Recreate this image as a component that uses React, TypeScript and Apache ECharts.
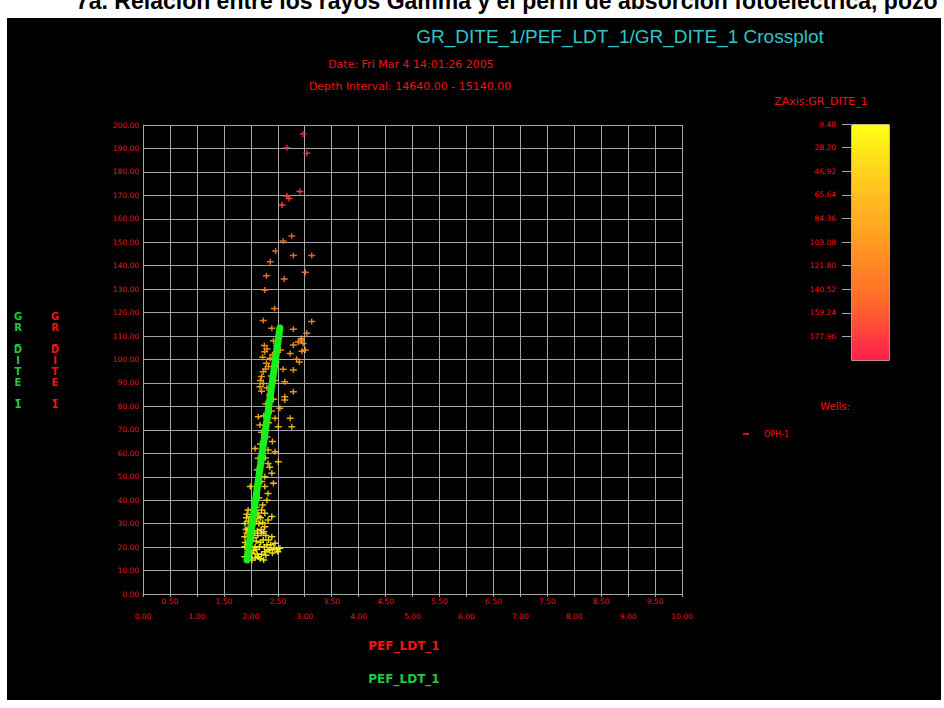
import React, { useEffect, useRef } from "react";
import * as echarts from "echarts";

// PEF_LDT_1 (x) vs GR_DITE_1 (y); colour = GR_DITE_1
const crossplotPoints: number[][] = [
  [2.97, 196.2], [2.67, 190.3], [3.04, 187.9], [2.67, 169.7], [2.71, 168.7], [2.91, 171.6],
  [2.58, 165.9], [2.76, 152.7], [2.6, 150.5], [2.46, 146.3], [2.79, 144.3], [3.13, 144.3],
  [2.36, 141.7], [3.01, 137.2], [2.29, 135.7], [2.62, 134.3], [2.26, 129.6], [2.44, 121.8],
  [2.23, 116.6], [3.13, 116.2], [2.39, 113.3], [2.79, 112.9], [3.04, 111.2], [2.94, 109.0],
  [2.94, 108.3], [2.79, 106.2], [3.01, 104.0], [2.73, 102.6], [2.26, 103.3], [2.36, 100.5],
  [2.85, 100.1], [2.29, 98.4], [2.6, 95.8], [2.79, 95.5], [2.23, 94.8], [2.2, 92.7],
  [2.23, 89.8], [2.63, 90.5], [2.17, 88.4], [2.79, 86.3], [2.63, 84.1], [2.63, 82.7],
  [2.54, 79.2], [2.14, 75.6], [2.73, 74.9], [2.45, 74.9], [2.17, 72.1], [2.76, 71.3],
  [2.51, 71.3], [2.08, 62.1], [2.32, 61.4], [2.45, 60.7], [2.14, 57.9], [2.51, 56.4],
  [2.32, 55.7], [2.39, 51.5], [2.26, 50.0], [1.99, 45.8], [2.26, 45.8], [2.42, 47.2],
  [2.32, 42.9], [2.42, 108], [2.48, 106], [2.55, 104], [2.4, 102], [2.47, 99], [2.33, 97],
  [2.38, 93], [2.45, 91], [2.3, 88], [2.35, 85], [2.42, 83], [2.28, 81], [2.38, 78],
  [2.24, 76], [2.33, 73], [2.2, 69], [2.3, 67], [2.4, 65], [2.18, 64], [2.27, 58],
  [2.35, 54], [2.12, 53], [2.2, 48], [2.3, 40], [2.15, 41], [2.22, 38], [2.1, 37],
  [2.9, 98.9], [2.95, 103.5], [2.88, 107.5], [2.97, 106.8],
  [2.25, 106], [2.3, 104.5], [2.22, 101], [2.27, 96], [2.18, 91], [2.2, 86.5],
  [2.05, 35.8], [1.95, 35.8], [2.2, 35.8], [2.26, 34.4], [2.39, 33.0], [2.32, 31.6],
  [1.89, 30.1], [2.26, 28.7], [2.2, 25.9], [2.39, 24.4], [1.89, 24.4], [2.23, 23.0],
  [2.45, 21.6], [2.54, 19.5], [2.08, 20.2], [1.89, 20.2], [2.26, 18.0], [2.02, 17.4],
  [1.89, 15.9], [2.14, 15.9], [2.32, 18.8], [1.92, 32.5], [1.95, 28], [1.93, 26],
  [2.0, 27], [1.98, 22], [2.05, 24], [2.12, 27], [2.15, 30], [2.18, 22], [2.1, 19],
  [2.2, 17], [2.3, 21], [2.35, 19], [2.4, 17.5], [2.48, 19], [2.5, 18], [2.02, 14.5],
  [2.08, 15.5], [1.95, 18], [2.28, 25], [2.15, 33], [2.1, 31],
  [1.9, 22], [1.91, 27.5], [1.96, 31], [2.03, 29.5], [2.07, 26], [2.1, 22.5], [2.13, 25],
  [2.16, 20], [2.19, 27.5], [2.22, 30.5], [2.25, 20], [2.28, 16.5], [2.33, 23],
  [2.37, 21], [2.43, 19.5], [1.97, 16], [2.05, 18.5], [2.12, 17], [2.17, 15], [2.24, 14.5],
  [1.93, 34], [2.0, 33], [2.07, 32], [2.18, 32.5], [2.13, 34.5], [2.24, 26.5],
];

// green trend band
const trendLine: number[][] = [
  [1.93, 14.5],
  [2.54, 113.4],
];

const colorbarTicks: number[] = [9.48, 28.2, 46.92, 65.64, 84.36, 103.08, 121.8, 140.52, 159.24, 177.96];
const colorMin = 9.48;
const colorMax = 196.68;

const RED = "#f01414";
const GRID = "#a6a6a6";
const PIX = "DejaVu Sans";

export default function App() {
  const ref = useRef<HTMLDivElement>(null);
  useEffect(() => {
    if (!ref.current) return;
    const chart = echarts.init(ref.current, null, { renderer: "svg" });
    const plus = "path://M0,4h10v2h-10zM4,1h2v8h-2z";
    chart.setOption({
      animation: false,
      backgroundColor: "#ffffff",
      grid: [
        { left: 143, top: 125, width: 539, height: 469, show: false },
        { left: 851, top: 124, width: 38, height: 236, show: false },
      ],
      xAxis: [
        {
          gridIndex: 0, type: "value", min: 0, max: 10, interval: 0.5, position: "bottom",
          axisLine: { show: true, lineStyle: { color: GRID, width: 1 } },
          axisTick: { show: true, length: 3, lineStyle: { color: GRID } },
          splitLine: { show: true, lineStyle: { color: GRID, width: 1 } },
          axisLabel: {
            margin: 3, color: RED, fontSize: 7.5, fontFamily: PIX,
            formatter: (v: number) => (Math.round(v * 2) % 2 === 1 ? v.toFixed(2) : ""),
          },
        },
        {
          gridIndex: 0, type: "value", min: 0, max: 10, interval: 1, position: "bottom", offset: 0,
          axisLine: { show: false }, axisTick: { show: false }, splitLine: { show: false },
          axisLabel: { margin: 18, color: RED, fontSize: 7.5, fontFamily: PIX, formatter: (v: number) => v.toFixed(2) },
        },
        { gridIndex: 1, type: "value", show: false, min: 0, max: 1 },
      ],
      yAxis: [
        {
          gridIndex: 0, type: "value", min: 0, max: 200, interval: 10,
          axisLine: { show: true, lineStyle: { color: GRID, width: 1 } },
          axisTick: { show: false },
          splitLine: { show: true, lineStyle: { color: GRID, width: 1 } },
          axisLabel: { margin: 4, color: RED, fontSize: 7.5, fontFamily: PIX, formatter: (v: number) => v.toFixed(2) },
        },
        {
          gridIndex: 1, type: "value", min: colorMin, max: colorMax, inverse: true, position: "left",
          axisLine: { show: false },
          axisTick: { show: true, length: 9, customValues: colorbarTicks, lineStyle: { color: GRID } },
          splitLine: { show: false },
          axisLabel: {
            margin: 15, color: RED, fontSize: 7.5, fontFamily: PIX, customValues: colorbarTicks,
            formatter: (v: number) => v.toFixed(2),
          },
        },
      ],
      visualMap: {
        type: "continuous",
        show: true,
        dimension: 1,
        seriesIndex: 0,
        min: colorMin,
        max: colorMax,
        inverse: true,
        calculable: false,
        left: 851,
        top: 124,
        itemWidth: 38,
        itemHeight: 236,
        padding: 0,
        text: null,
        showLabel: false,
        borderColor: "#9a9a9a",
        borderWidth: 1,
        inRange: { color: ["#ffff14", "#ffc81e", "#ff9a22", "#ff6a2a", "#ff1e4c"] },
        hoverLink: false,
      },
      legend: {
        left: 738,
        top: 425,
        itemWidth: 6,
        itemHeight: 2,
        itemGap: 4,
        selectedMode: false,
        data: [{ name: "OPH-1", icon: "rect", itemStyle: { color: RED } }],
        textStyle: { color: RED, fontSize: 8, fontFamily: PIX, padding: [0, 0, 0, 10] },
      },
      series: [
        {
          name: "OPH-1",
          type: "scatter",
          xAxisIndex: 0,
          yAxisIndex: 0,
          symbol: plus,
          symbolSize: [7, 6],
          data: crossplotPoints,
          itemStyle: { opacity: 0.9 },
        },
        {
          name: "trend",
          type: "line",
          xAxisIndex: 0,
          yAxisIndex: 0,
          data: trendLine,
          symbol: "none",
          lineStyle: { color: "#1aee1a", width: 7, cap: "round" },
        },
      ],
      graphic: [
        { type: "rect", z: -10, shape: { x: 7, y: 18, width: 934, height: 682 }, style: { fill: "#000000" } },
        {
          type: "text", x: 76, y: 1,
          style: {
            text: "7a. Relación entre los rayos Gamma y el perfil de absorción fotoeléctrica, pozo",
            fill: "#000", font: "bold 23px 'Liberation Sans'", verticalAlign: "middle", align: "left",
          },
        },
        {
          type: "text", x: 620, y: 36,
          style: { text: "GR_DITE_1/PEF_LDT_1/GR_DITE_1 Crossplot", fill: "#2ec6c6", font: "19px 'Liberation Sans'", align: "center", verticalAlign: "middle" },
        },
        {
          type: "text", x: 411, y: 64,
          style: { text: "Date: Fri Mar 4 14:01:26 2005", fill: RED, font: "11px 'DejaVu Sans'", align: "center", verticalAlign: "middle" },
        },
        {
          type: "text", x: 410, y: 86,
          style: { text: "Depth Interval: 14640.00 - 15140.00", fill: RED, font: "11px 'DejaVu Sans'", align: "center", verticalAlign: "middle" },
        },
        {
          type: "text", x: 821, y: 101,
          style: { text: "ZAxis:GR_DITE_1", fill: RED, font: "11px 'DejaVu Sans'", align: "center", verticalAlign: "middle" },
        },
        {
          type: "text", x: 835, y: 406,
          style: { text: "Wells:", fill: RED, font: "10px 'DejaVu Sans'", align: "center", verticalAlign: "middle" },
        },
        {
          type: "text", x: 18, y: 360,
          style: { text: "G\nR\n_\nD\nI\nT\nE\n_\n1", fill: "#22c844", font: "bold 10px 'DejaVu Sans'", lineHeight: 11, align: "center", verticalAlign: "middle" },
        },
        {
          type: "text", x: 55, y: 360,
          style: { text: "G\nR\n_\nD\nI\nT\nE\n_\n1", fill: RED, font: "bold 10px 'DejaVu Sans'", lineHeight: 11, align: "center", verticalAlign: "middle" },
        },
        {
          type: "text", x: 404, y: 646,
          style: { text: "PEF_LDT_1", fill: RED, font: "bold 12px 'DejaVu Sans'", align: "center", verticalAlign: "middle" },
        },
        {
          type: "text", x: 404, y: 679,
          style: { text: "PEF_LDT_1", fill: "#22c844", font: "bold 12px 'DejaVu Sans'", align: "center", verticalAlign: "middle" },
        },
      ],
    });
    return () => chart.dispose();
  }, []);
  return <div ref={ref} style={{ position: "fixed", left: 0, top: 0, width: 944, height: 708 }} />;
}
